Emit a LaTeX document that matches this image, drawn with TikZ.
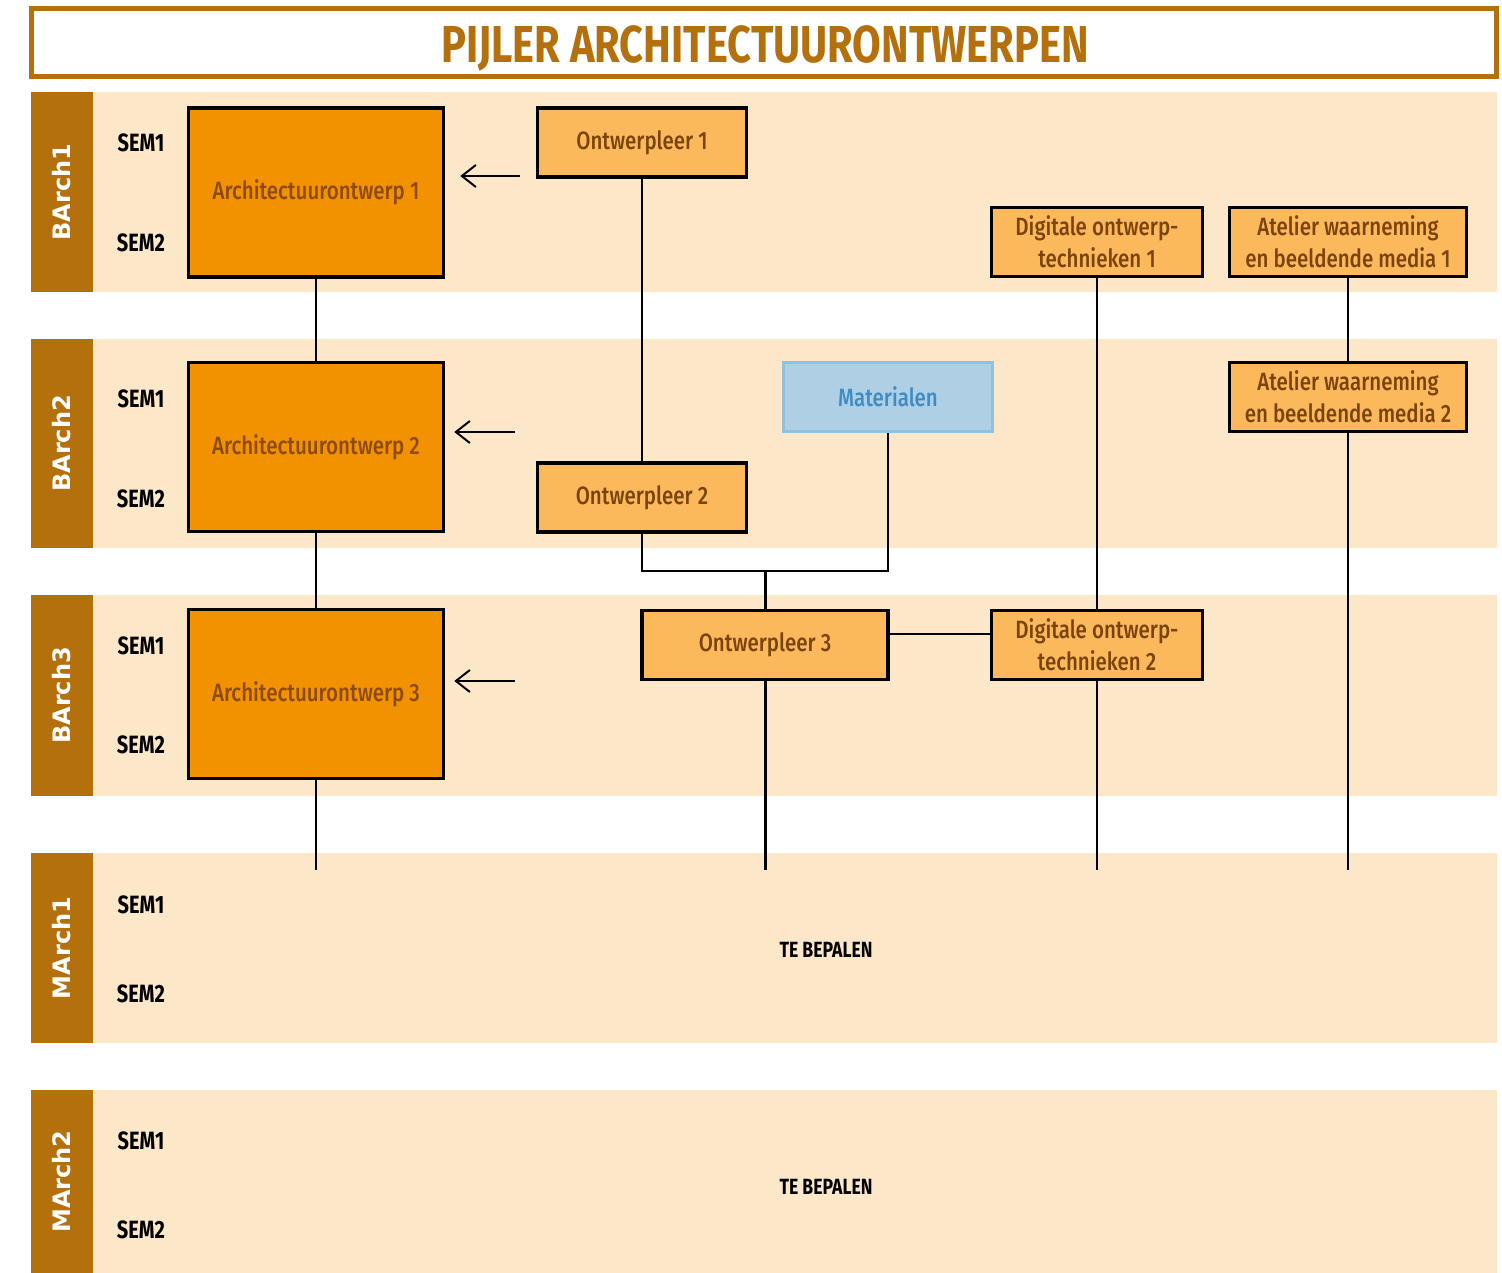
\documentclass[tikz,border=0pt]{standalone}
\usepackage{fontspec}
\setmainfont{Fira Sans}[FakeStretch=0.8]
\newfontfamily\boxfont{Fira Sans Medium}[FakeStretch=0.82]
\newfontfamily\sidefont{DejaVu Sans}
\usetikzlibrary{arrows.meta}
\definecolor{gold}{RGB}{181,112,14}
\definecolor{bandfill}{RGB}{253,231,201}
\definecolor{aofill}{RGB}{243,146,0}
\definecolor{aotext}{RGB}{140,74,11}
\definecolor{leerfill}{RGB}{251,185,92}
\definecolor{leertext}{RGB}{122,67,10}
\definecolor{matfill}{RGB}{174,207,228}
\definecolor{matdraw}{RGB}{147,192,221}
\definecolor{mattext}{RGB}{63,139,195}
\begin{document}
\begin{tikzpicture} [x=1pt, y=-1pt,
 aobox/.style={draw=black, line width=3.5pt, fill=aofill, text=aotext, minimum width=255pt, minimum height=169pt, inner sep=0pt, font=\fontsize{25}{32}\boxfont},
 leerbox/.style={draw=black, line width=3.5pt, fill=leerfill, text=leertext, minimum height=69pt, inner sep=0pt, align=center, font=\fontsize{25}{32}\boxfont},
 matbox/.style={draw=matdraw, line width=3pt, fill=matfill, text=mattext, minimum width=209pt, minimum height=69pt, font=\fontsize{25}{32}\boxfont},
 semlabel/.style={font=\fontsize{25}{28}\selectfont\bfseries},
 sidelabel/.style={rotate=90, text=white, font=\fontsize{24}{28}\sidefont\bfseries},
 link/.style={line width=2pt},
 boldlink/.style={line width=3pt},
 >={Straight Barb[length=14pt,width=22pt]}]
\useasboundingbox (0,0) rectangle (1502,1273);
\node[draw=gold, line width=5pt, minimum width=1465pt, minimum height=68pt] (title) at (763.5,43) {};
\node[text=gold, font=\fontsize{52}{56}\selectfont\bfseries] (titletext) at (765,48) {PIJLER ARCHITECTUURONTWERPEN};
\foreach \top/\bot/\yr/\sa/\sb in {92/292/BArch1/143/243, 339/548/BArch2/399/499, 595/796/BArch3/646/745, 853/1043/MArch1/905/994, 1090/1273/MArch2/1141/1230} {
 \fill[bandfill] (31,\top) rectangle (1497,\bot);
 \fill[gold] (31,\top) rectangle (93,\bot);
 \node[sidelabel] (\yr) at (62,{(\top+\bot)/2}) {\yr};
 \node[semlabel] (\yr-sem1) at (141,\sa) {SEM1};
 \node[semlabel] (\yr-sem2) at (141,\sb) {SEM2};
}
\node[aobox] (ao1) at (316,192.5) {Architectuurontwerp 1};
\node[aobox] (ao2) at (316,447) {Architectuurontwerp 2};
\node[aobox] (ao3) at (316,694) {Architectuurontwerp 3};
\node[leerbox, minimum width=209pt] (ol1) at (642,142.5) {Ontwerpleer 1};
\node[leerbox, minimum width=209pt] (ol2) at (642,497.5) {Ontwerpleer 2};
\node[leerbox, minimum width=246pt] (ol3) at (765,645) {Ontwerpleer 3};
\node[matbox] (mat) at (888,397) {Materialen};
\node[leerbox, minimum width=211pt] (dot1) at (1097,242) {Digitale ontwerp-\\technieken 1};
\node[leerbox, minimum width=211pt] (dot2) at (1097,645) {Digitale ontwerp-\\technieken 2};
\node[leerbox, minimum width=237pt] (awb1) at (1348,242) {Atelier waarneming\\en beeldende media 1};
\node[leerbox, minimum width=237pt] (awb2) at (1348,397) {Atelier waarneming\\en beeldende media 2};
\node[font=\fontsize{22}{24}\selectfont\bfseries] (tbp1) at (826,950) {TE BEPALEN};
\node[font=\fontsize{22}{24}\selectfont\bfseries] (tbp2) at (826,1187) {TE BEPALEN};
\coordinate (in1) at (520,176);
\coordinate (in2) at (515,432);
\coordinate (in3) at (515,681);
\coordinate (split) at (765,571);
\foreach \n/\x in {ao/316, ol/765, dot/1097, awb/1348} {
 \coordinate (\n-end) at (\x,870);
}
\draw[link, ->] (in1) -- ([xshift=15pt]in1 -| ao1.east);
\draw[link, ->] (in2) -- ([xshift=9pt]in2 -| ao2.east);
\draw[link, ->] (in3) -- ([xshift=9pt]in3 -| ao3.east);
\draw[link] (ao1) -- (ao2);
\draw[link] (ao2) -- (ao3);
\draw[link] (ao3) -- (ao-end);
\draw[link] (ol1) -- (ol2);
\draw[link] (ol2.south) |- (split);
\draw[link] (mat.south) |- (split);
\draw[boldlink] (split) -- (ol3.north);
\draw[boldlink] (ol3) -- (ol-end);
\draw[link] ([yshift=11pt]ol3.east) -- ([yshift=11pt]dot2.west);
\draw[link] (dot1) -- (dot2);
\draw[link] (dot2) -- (dot-end);
\draw[link] (awb1) -- (awb2);
\draw[link] (awb2) -- (awb-end);
\end{tikzpicture}
\end{document}
